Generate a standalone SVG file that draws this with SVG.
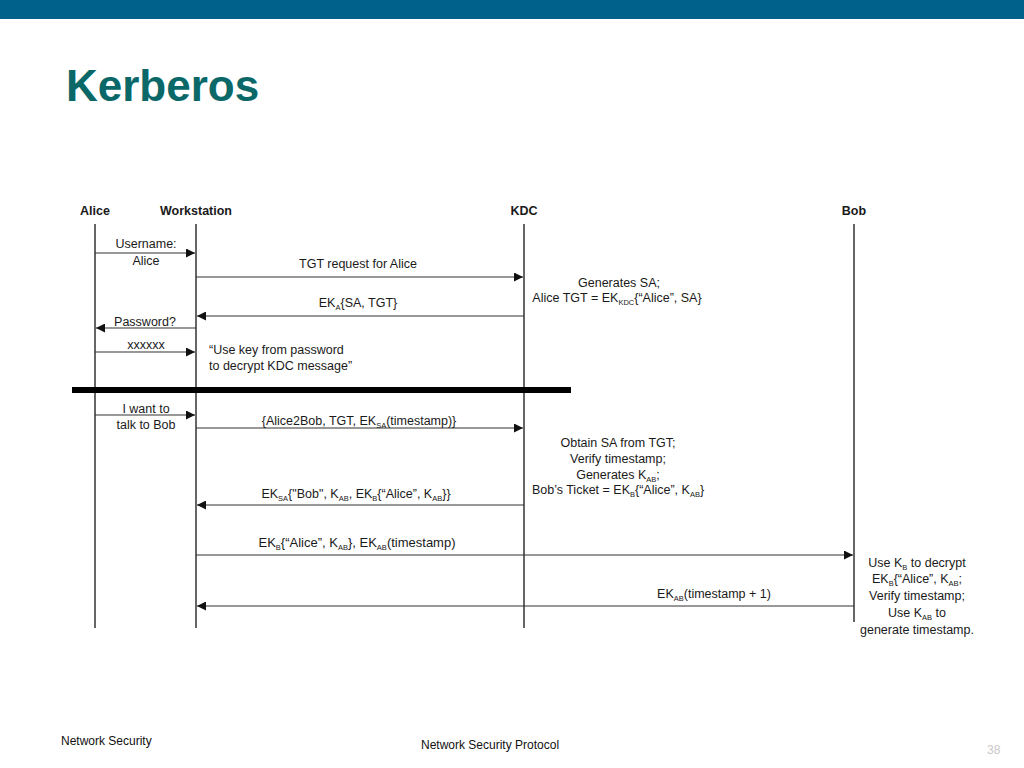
<svg xmlns="http://www.w3.org/2000/svg" width="1024" height="768" viewBox="0 0 1024 768">
<style>
.t{font-family:"Liberation Sans",Arial,sans-serif;font-size:12.5px;fill:#1a1a1a}
.c{text-anchor:middle}
.s{font-size:7.5px}
.life{stroke:#333;stroke-width:1.5}
.msg{stroke:#333;stroke-width:1.2;fill:none}
.foot{font-family:"Liberation Sans",Arial,sans-serif;font-size:12px;fill:#111}
</style>
<defs>
<marker id="ah" viewBox="0 0 10 10" refX="10" refY="5" markerWidth="9" markerHeight="9" markerUnits="userSpaceOnUse" orient="auto">
<path d="M0,0 L10,5 L0,10 z" fill="#111"/>
</marker>
</defs>
<rect x="0" y="0" width="1024" height="19" fill="#00618a"/>
<text x="66" y="101" font-family="Liberation Sans,Arial,sans-serif" font-size="44" font-weight="bold" fill="#0a6868">Kerberos</text>

<g id="alice"><text class="t c" x="95" y="215" font-weight="bold">Alice</text><line class="life" x1="95" y1="224" x2="95" y2="628"/></g>
<g id="workstation"><text class="t c" x="196" y="215" font-weight="bold">Workstation</text><line class="life" x1="196" y1="224" x2="196" y2="628"/></g>
<g id="kdc"><text class="t c" x="524" y="215" font-weight="bold">KDC</text><line class="life" x1="524" y1="224" x2="524" y2="628"/></g>
<g id="bob"><text class="t c" x="854" y="215" font-weight="bold">Bob</text><line class="life" x1="854" y1="224" x2="854" y2="622"/></g>

<rect x="72" y="387" width="499" height="6" fill="#000"/>

<g id="connectors">
<line class="msg" x1="95" y1="253" x2="195" y2="253" marker-end="url(#ah)"/>
<line class="msg" x1="196" y1="277" x2="523" y2="277" marker-end="url(#ah)"/>
<line class="msg" x1="524" y1="316" x2="197" y2="316" marker-end="url(#ah)"/>
<line class="msg" x1="196" y1="328" x2="96" y2="328" marker-end="url(#ah)"/>
<line class="msg" x1="95" y1="352" x2="195" y2="352" marker-end="url(#ah)"/>
<line class="msg" x1="95" y1="415" x2="195" y2="415" marker-end="url(#ah)"/>
<line class="msg" x1="196" y1="428" x2="523" y2="428" marker-end="url(#ah)"/>
<line class="msg" x1="524" y1="505" x2="197" y2="505" marker-end="url(#ah)"/>
<line class="msg" x1="196" y1="555" x2="853" y2="555" marker-end="url(#ah)"/>
<line class="msg" x1="854" y1="606" x2="197" y2="606" marker-end="url(#ah)"/>
</g>

<g id="labels">
<text class="t c" x="146" y="248">Username:</text>
<text class="t c" x="146" y="265">Alice</text>
<text class="t c" x="358" y="268">TGT request for Alice</text>
<text class="t c" x="358" y="307">EK<tspan class="s" dy="3">A</tspan><tspan dy="-3">{SA, TGT}</tspan></text>
<text class="t c" x="145" y="326">Password?</text>
<text class="t c" x="146" y="349" font-size="11">xxxxxx</text>
<text class="t" x="209" y="354">“Use key from password</text>
<text class="t" x="209" y="370">to decrypt KDC message”</text>
<text class="t c" x="619" y="287">Generates SA;</text>
<text class="t c" x="617" y="302">Alice TGT = EK<tspan class="s" dy="3">KDC</tspan><tspan dy="-3">{“Alice”, SA}</tspan></text>

<text class="t c" x="146" y="413">I want to</text>
<text class="t c" x="146" y="429">talk to Bob</text>
<text class="t c" x="359" y="425">{Alice2Bob, TGT, EK<tspan class="s" dy="3">SA</tspan><tspan dy="-3">(timestamp)}</tspan></text>
<text class="t c" x="618" y="447">Obtain SA from TGT;</text>
<text class="t c" x="618" y="463">Verify timestamp;</text>
<text class="t c" x="618" y="479">Generates K<tspan class="s" dy="3">AB</tspan><tspan dy="-3">;</tspan></text>
<text class="t c" x="618" y="494">Bob’s Ticket = EK<tspan class="s" dy="3">B</tspan><tspan dy="-3">{“Alice”, K</tspan><tspan class="s" dy="3">AB</tspan><tspan dy="-3">}</tspan></text>
<text class="t c" x="356" y="498">EK<tspan class="s" dy="3">SA</tspan><tspan dy="-3">{"Bob", K</tspan><tspan class="s" dy="3">AB</tspan><tspan dy="-3">, EK</tspan><tspan class="s" dy="3">B</tspan><tspan dy="-3">{“Alice”, K</tspan><tspan class="s" dy="3">AB</tspan><tspan dy="-3">}}</tspan></text>
<text class="t c" x="357" y="547" style="font-size:13px">EK<tspan class="s" dy="3">B</tspan><tspan dy="-3">{“Alice”, K</tspan><tspan class="s" dy="3">AB</tspan><tspan dy="-3">}, EK</tspan><tspan class="s" dy="3">AB</tspan><tspan dy="-3">(timestamp)</tspan></text>
<text class="t c" x="714" y="598">EK<tspan class="s" dy="3">AB</tspan><tspan dy="-3">(timestamp + 1)</tspan></text>
<text class="t c" x="917" y="567">Use K<tspan class="s" dy="3">B</tspan><tspan dy="-3"> to decrypt</tspan></text>
<text class="t c" x="917" y="583">EK<tspan class="s" dy="3">B</tspan><tspan dy="-3">{“Alice”, K</tspan><tspan class="s" dy="3">AB</tspan><tspan dy="-3">;</tspan></text>
<text class="t c" x="917" y="600">Verify timestamp;</text>
<text class="t c" x="917" y="617">Use K<tspan class="s" dy="3">AB</tspan><tspan dy="-3"> to</tspan></text>
<text class="t c" x="917" y="634">generate timestamp.</text>
</g>

<text class="foot" x="61" y="745">Network Security</text>
<text class="foot" x="421" y="749">Network Security Protocol</text>
<text class="foot" x="987" y="754" fill="#c8c8c8" style="fill:#c8c8c8">38</text>
</svg>
